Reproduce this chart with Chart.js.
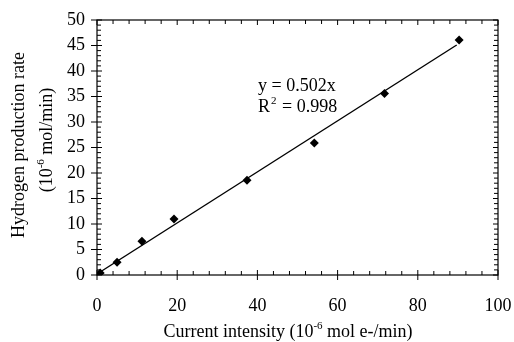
<!DOCTYPE html>
<html><head><meta charset="utf-8">
<script src="https://cdn.jsdelivr.net/npm/chart.js@4.4.1/dist/chart.umd.min.js"></script>
<style>html,body{margin:0;padding:0;background:#fff}#w{width:514px;height:342px}</style>
</head><body><div id="w"><canvas id="c" width="514" height="342"></canvas></div>
<script>
const currentX = [0.8, 5.0, 11.2, 19.2, 37.4, 54.2, 71.7, 90.3];
const hydrogenY = [0.4, 2.5, 6.6, 11.0, 18.6, 25.9, 35.6, 46.1];
const fitX = [0, 89.7];
const fitY = [0.2, 45.1];
const xTicks = [0, 20, 40, 60, 80, 100];
const yTicks = [0, 5, 10, 15, 20, 25, 30, 35, 40, 45, 50];
const eqLine1 = "y = 0.502x";
const eqLine2 = ["R", "2", " = 0.998"];
const xTitle = ["Current intensity (10", "-6", " mol e-/min)"];
const yTitle1 = "Hydrogen production rate";
const yTitle2 = ["(10", "-6", " mol/min)"];

const FONT = '"Liberation Serif", "Times New Roman", serif';

function drawSup(ctx, parts, size, cx, cy) {
  ctx.font = size + 'px ' + FONT;
  const w0 = ctx.measureText(parts[0]).width;
  const w2 = ctx.measureText(parts[2]).width;
  ctx.font = Math.round(size * 0.62) + 'px ' + FONT;
  const w1 = ctx.measureText(parts[1]).width;
  let x = cx - (w0 + w1 + w2) / 2;
  ctx.textAlign = 'left';
  ctx.textBaseline = 'alphabetic';
  ctx.font = size + 'px ' + FONT;
  ctx.fillText(parts[0], x, cy); x += w0;
  ctx.font = Math.round(size * 0.62) + 'px ' + FONT;
  ctx.fillText(parts[1], x, cy - size * 0.42); x += w1;
  ctx.font = size + 'px ' + FONT;
  ctx.fillText(parts[2], x, cy);
}

const frame = {
  id: 'frame',
  afterDatasetsDraw(chart) {
    const ctx = chart.ctx, a = chart.chartArea;
    const xs = chart.scales.x, ys = chart.scales.y;
    ctx.save();
    ctx.strokeStyle = '#000';
    ctx.lineWidth = 1.2;
    ctx.strokeRect(a.left, a.top, a.right - a.left, a.bottom - a.top);
    ctx.lineWidth = 1;
    ctx.beginPath();
    for (let v = 0; v <= 100; v += 4) {
      const p = xs.getPixelForValue(v);
      const major = v % 20 === 0;
      ctx.moveTo(p, a.bottom + (major ? 5 : 0)); ctx.lineTo(p, a.bottom - (major ? 5 : 4));
      ctx.moveTo(p, a.top); ctx.lineTo(p, a.top + (major ? 5 : 4));
    }
    for (let v = 0; v <= 50; v += 1) {
      const p = ys.getPixelForValue(v);
      const major = v % 5 === 0;
      ctx.moveTo(a.left - (major ? 6 : 0), p); ctx.lineTo(a.left + (major ? 5 : 4), p);
      ctx.moveTo(a.right, p); ctx.lineTo(a.right - (major ? 5 : 4), p);
    }
    ctx.stroke();
    ctx.fillStyle = '#000';
    ctx.font = '18px ' + FONT;
    ctx.textAlign = 'left';
    ctx.textBaseline = 'alphabetic';
    ctx.fillText(eqLine1, 258, 91);
    ctx.fillText(eqLine2[0], 258, 112);
    const rw = ctx.measureText(eqLine2[0]).width;
    ctx.font = '11px ' + FONT;
    ctx.fillText(eqLine2[1], 258 + rw + 1, 104);
    const sw = ctx.measureText(eqLine2[1]).width;
    ctx.font = '18px ' + FONT;
    ctx.fillText(eqLine2[2], 258 + rw + 2 + sw, 112);
    drawSup(ctx, xTitle, 18, 288, 337);
    ctx.save();
    ctx.translate(24, 145);
    ctx.rotate(-Math.PI / 2);
    ctx.font = '18px ' + FONT;
    ctx.textAlign = 'center';
    ctx.fillText(yTitle1, 0, 0);
    ctx.restore();
    ctx.save();
    ctx.translate(52, 140);
    ctx.rotate(-Math.PI / 2);
    drawSup(ctx, yTitle2, 18, 0, 0);
    ctx.restore();
    ctx.restore();
  }
};

new Chart(document.getElementById('c'), {
  type: 'scatter',
  data: {
    datasets: [
      {
        data: currentX.map((x, i) => ({x, y: hydrogenY[i]})),
        pointStyle: 'rectRot', pointRadius: 4.5, pointHoverRadius: 4.5,
        backgroundColor: '#000', borderColor: '#000', borderWidth: 0, showLine: false
      },
      {
        data: fitX.map((x, i) => ({x, y: fitY[i]})),
        showLine: true, pointRadius: 0, borderColor: '#000', borderWidth: 1.4, fill: false
      }
    ]
  },
  options: {
    responsive: false, animation: false,
    layout: { padding: { left: 0, top: 20, right: 16, bottom: 0 } },
    plugins: { legend: { display: false }, tooltip: { enabled: false } },
    scales: {
      x: {
        type: 'linear', min: 0, max: 100,
        afterBuildTicks: s => { s.ticks = xTicks.map(v => ({value: v})); },
        afterFit: s => { s.height = 67; s.paddingLeft = 0; s.paddingRight = 0; },
        grid: { display: false, drawTicks: false }, border: { display: false },
        ticks: { padding: 20, color: '#000', font: { family: FONT, size: 18 }, maxRotation: 0 }
      },
      y: {
        type: 'linear', min: 0, max: 50,
        afterBuildTicks: s => { s.ticks = yTicks.map(v => ({value: v})); },
        afterFit: s => { s.width = 97; s.paddingTop = 0; s.paddingBottom = 0; },
        grid: { display: false, drawTicks: false }, border: { display: false },
        ticks: { padding: 12, color: '#000', font: { family: FONT, size: 18 } }
      }
    }
  },
  plugins: [frame]
});
</script>
</body></html>
